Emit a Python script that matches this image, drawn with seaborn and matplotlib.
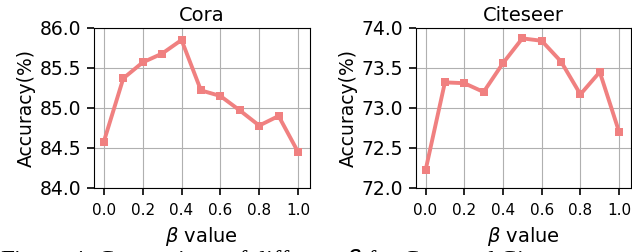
import pandas as pd
import matplotlib
matplotlib.use('Agg')
import matplotlib.pyplot as plt
import seaborn as sns

# Data
beta = [0.0, 0.1, 0.2, 0.3, 0.4, 0.5, 0.6, 0.7, 0.8, 0.9, 1.0]
cora_acc = [84.58, 85.37, 85.57, 85.68, 85.85, 85.22, 85.15, 84.97, 84.78, 84.90, 84.45]
citeseer_acc = [72.22, 73.32, 73.31, 73.20, 73.56, 73.87, 73.84, 73.58, 73.17, 73.45, 72.70]
datasets = ['Cora', 'Citeseer']
ylims = [(84.0, 86.0), (72.0, 74.0)]
xticks = [0.0, 0.2, 0.4, 0.6, 0.8, 1.0]

sns.set_style("whitegrid", rc={
    'axes.edgecolor': 'black',
    'axes.linewidth': 1.3,
    'axes.labelcolor': 'black',
    'text.color': 'black',
    'grid.color': '#b0b0b0',
    'grid.linewidth': 1.2,
    'xtick.bottom': True,
    'ytick.left': True,
    'xtick.color': 'black',
    'ytick.color': 'black',
})
plt.rcParams['font.family'] = ['DejaVu Sans']

df = pd.DataFrame({'beta': beta, 'Cora': cora_acc, 'Citeseer': citeseer_acc})

fig = plt.figure(figsize=(6.32, 2.52), dpi=100)
ax1 = fig.add_axes([0.149, 0.254, 0.341, 0.635])
ax2 = fig.add_axes([0.658, 0.254, 0.340, 0.635])

for ax, name, yl in zip([ax1, ax2], datasets, ylims):
    sns.lineplot(data=df, x='beta', y=name, ax=ax, color='lightcoral',
                 marker='s', markersize=5.5, markeredgewidth=0, linewidth=2.8)
    ax.set_ylim(*yl)
    ax.set_xlim(-0.05, 1.06)
    ax.set_xticks(xticks)
    ax.set_xticklabels([f'{t:.1f}' for t in xticks], fontsize=11)
    ax.set_yticks([yl[0] + 0.5 * i for i in range(5)])
    ax.set_yticklabels([f'{yl[0] + 0.5 * i:.1f}' for i in range(5)], fontsize=13.5)
    ax.tick_params(length=5, width=1.2, pad=4)
    ax.tick_params(axis='x', pad=6)
    ax.set_title(name, fontsize=14, pad=5)
    ax.set_xlabel(r'$\beta$ value', fontsize=14, labelpad=5)
    ax.set_ylabel('Accuracy(%)', fontsize=13.5, labelpad=3)
    for s in ax.spines.values():
        s.set_color('black')

# caption of the paper figure, cut off at the bottom of the image
fig.text(0.0, 0.019, r'Figure 4: Comparison of different $\beta$ for Cora and Citeseer.',
         family='Liberation Serif', fontsize=18, va='top', ha='left')

plt.savefig('out.png', dpi=100)
